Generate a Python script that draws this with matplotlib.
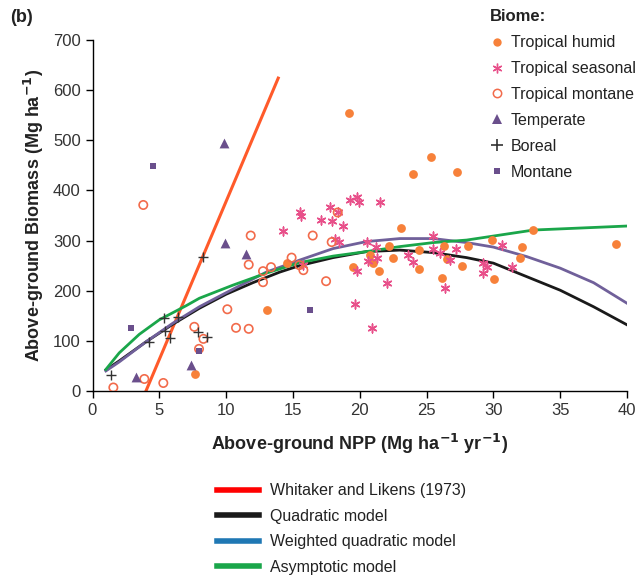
import matplotlib
matplotlib.use("Agg")
import matplotlib.pyplot as plt
from matplotlib.lines import Line2D

plt.rcParams['font.family'] = ['Liberation Sans', 'DejaVu Sans']

# ---- data ----
humid_x = [19.2, 25.34, 24.0, 27.26, 23.1, 32.95, 29.9, 39.18, 32.15, 31.97, 30.08, 26.33, 28.08,
           24.44, 22.17, 20.77, 21.0, 22.5, 19.5, 21.44, 24.4, 26.5, 27.68, 26.16, 14.58, 13.08, 7.7]
humid_y = [555, 467, 433, 437, 325, 321, 301, 293, 288, 266, 224, 289, 289,
           281, 289, 271, 256, 266, 248, 239, 243, 264, 250, 226, 255, 162, 33]

seasonal_x = [14.28, 15.5, 15.6, 17.08, 17.78, 17.95, 18.35, 18.73, 19.27, 19.82, 19.97, 21.52,
              18.15, 18.45, 20.52, 21.22, 20.64, 21.3, 19.8, 22.07, 19.65, 20.9, 15.78, 23.64,
              23.97, 25.46, 25.5, 26.0, 27.18, 26.76, 26.38, 29.2, 29.55, 29.2, 30.63, 31.42]
seasonal_y = [319, 356, 350, 342, 366, 339, 357, 329, 380, 386, 377, 376,
              304, 297, 298, 287, 260, 266, 239, 215, 174, 126, 252, 271,
              258, 309, 283, 275, 283, 261, 205, 255, 248, 236, 291, 248]

montane_trop_x = [1.56, 3.88, 5.3, 3.8, 7.62, 8.3, 7.97, 10.09, 10.74, 11.69, 11.84, 11.69, 12.76,
                  13.36, 12.76, 14.9, 15.48, 15.78, 16.48, 17.48, 18.35, 17.9]
montane_trop_y = [7, 24, 16, 371, 128, 104, 84, 163, 126, 124, 310, 252, 239,
                  247, 217, 266, 251, 241, 310, 219, 356, 297]

temperate_x = [9.87, 9.94, 11.5, 3.23, 7.37]
temperate_y = [495, 296, 273, 27, 52]

boreal_x = [1.38, 4.25, 5.35, 5.43, 5.8, 6.42, 8.3, 7.92, 8.6]
boreal_y = [32, 98, 145, 120, 106, 147, 267, 118, 108]

montane_x = [4.5, 2.88, 8.0, 16.28]
montane_y = [449, 126, 80, 162]

# model curves
wl_x = [4.0, 13.9]
wl_y = [0, 624]

quad_x = [1, 2, 4, 6, 8, 10, 12, 14, 15.5, 18, 20.5, 23, 25.5, 28, 30, 32.5, 35, 37.5, 40]
quad_y = [42, 60, 98, 133, 165, 193, 216, 237, 250, 266, 278, 281, 276, 266, 255, 228, 201, 168, 132]

wquad_x = [1, 2, 4, 6, 8, 10, 13, 15.5, 18, 20.5, 23, 25.5, 28, 30, 32.5, 35, 37.5, 40]
wquad_y = [40, 58, 98, 135, 168, 196, 237, 261, 284, 298, 304, 304, 296, 287, 268, 245, 216, 175]

asym_x = [1, 2, 3.5, 5, 7, 8, 10.5, 13, 15.5, 18, 20.5, 23, 25.5, 28, 33, 40]
asym_y = [43, 76, 113, 142, 170, 185, 211, 235, 256, 269, 278, 288, 296, 301, 321, 329]

biome_labels = ["Tropical humid", "Tropical seasonal", "Tropical montane", "Temperate", "Boreal", "Montane"]
model_labels = ["Whitaker and Likens (1973)", "Quadratic model", "Weighted quadratic model", "Asymptotic model"]

x_ticks = [0, 5, 10, 15, 20, 25, 30, 35, 40]
y_ticks = [0, 100, 200, 300, 400, 500, 600, 700]

# ---- colours ----
c_humid = "#F7813A"
c_seas = "#E8508A"
c_mont = "#F26B4B"
c_purple = "#6A4F8C"
c_boreal = "#333333"
c_wl_line = "#FF5A2A"
c_quad = "#1A1A1A"
c_wquad_line = "#70609A"
c_asym = "#1AA64A"

fig = plt.figure(figsize=(6.4, 5.77), dpi=100)
ax = fig.add_axes([92.5/640, 1-391/577, (627-92.5)/640, (391-40)/577])

ax.plot(wl_x, wl_y, color=c_wl_line, lw=2.2, zorder=2)
ax.plot(quad_x, quad_y, color=c_quad, lw=2, zorder=2)
ax.plot(wquad_x, wquad_y, color=c_wquad_line, lw=2, zorder=3)
ax.plot(asym_x, asym_y, color=c_asym, lw=2, zorder=3)

ax.scatter(humid_x, humid_y, s=40, color=c_humid, marker='o', zorder=4, linewidths=0)
ax.scatter(seasonal_x, seasonal_y, s=40, color=c_seas, marker=(6, 2, 0), zorder=4, linewidths=1.1)
ax.scatter(montane_trop_x, montane_trop_y, s=36, facecolors='none', edgecolors=c_mont, marker='o', zorder=4, linewidths=1.2)
ax.scatter(temperate_x, temperate_y, s=50, color=c_purple, marker='^', zorder=4, linewidths=0)
ax.scatter(boreal_x, boreal_y, s=50, color=c_boreal, marker='+', zorder=4, linewidths=1)
ax.scatter(montane_x, montane_y, s=14, color=c_purple, marker='s', zorder=4, linewidths=0)

ax.set_xlim(0, 40)
ax.set_ylim(0, 700)
ax.set_xticks(x_ticks)
ax.set_yticks(y_ticks)
for s in ['top', 'right']:
    ax.spines[s].set_visible(False)
for s in ['left', 'bottom']:
    ax.spines[s].set_linewidth(1.0)
ax.tick_params(direction='out', length=5, width=1, labelsize=12, labelcolor="#333333")
ax.set_xlabel("Above-ground NPP (Mg ha$^{\\mathbf{-1}}$ yr$^{\\mathbf{-1}}$)", fontsize=13, fontweight='bold',
              color="#222222", labelpad=10)
ax.set_ylabel("Above-ground Biomass (Mg ha$^{\\mathbf{-1}}$)", fontsize=13, fontweight='bold',
              color="#222222", labelpad=5)

fig.text(10/640, 1-18/577, "(b)", fontsize=13, fontweight='bold', va='center', ha='left', color="#222222")

# biome legend
bh = [
    Line2D([], [], ls='none', marker='o', color=c_humid, markersize=6, markeredgewidth=0),
    Line2D([], [], ls='none', marker=(6, 2, 0), color=c_seas, markersize=7, markeredgewidth=1.0),
    Line2D([], [], ls='none', marker='o', markerfacecolor='none', markeredgecolor=c_mont, markersize=6, markeredgewidth=1.1),
    Line2D([], [], ls='none', marker='^', color=c_purple, markersize=7, markeredgewidth=0),
    Line2D([], [], ls='none', marker='+', color=c_boreal, markersize=9, markeredgewidth=1.2),
    Line2D([], [], ls='none', marker='s', color=c_purple, markersize=5, markeredgewidth=0),
]
leg1 = fig.legend(bh, biome_labels, loc='upper left', bbox_to_anchor=(483/640, 1-3/577), frameon=False,
                  fontsize=11.5, title="Biome:", title_fontproperties={'weight': 'bold', 'size': 12},
                  alignment='left', handlelength=1.0, handletextpad=0.35, labelspacing=0.68,
                  borderaxespad=0)
for t in leg1.get_texts():
    t.set_color("#222222")
leg1.get_title().set_color("#222222")

mh = [
    Line2D([], [], color="#FF0000", lw=4),
    Line2D([], [], color="#1A1A1A", lw=4),
    Line2D([], [], color="#1F78B4", lw=4),
    Line2D([], [], color="#1AA64A", lw=4),
]
leg2 = fig.legend(mh, model_labels, loc='upper left', bbox_to_anchor=(211/640, 1-477/577), frameon=False,
                  fontsize=11.5, handlelength=2.6, handletextpad=0.7, labelspacing=0.65, borderaxespad=0)
for t in leg2.get_texts():
    t.set_color("#222222")

fig.savefig("out.png", dpi=100)
